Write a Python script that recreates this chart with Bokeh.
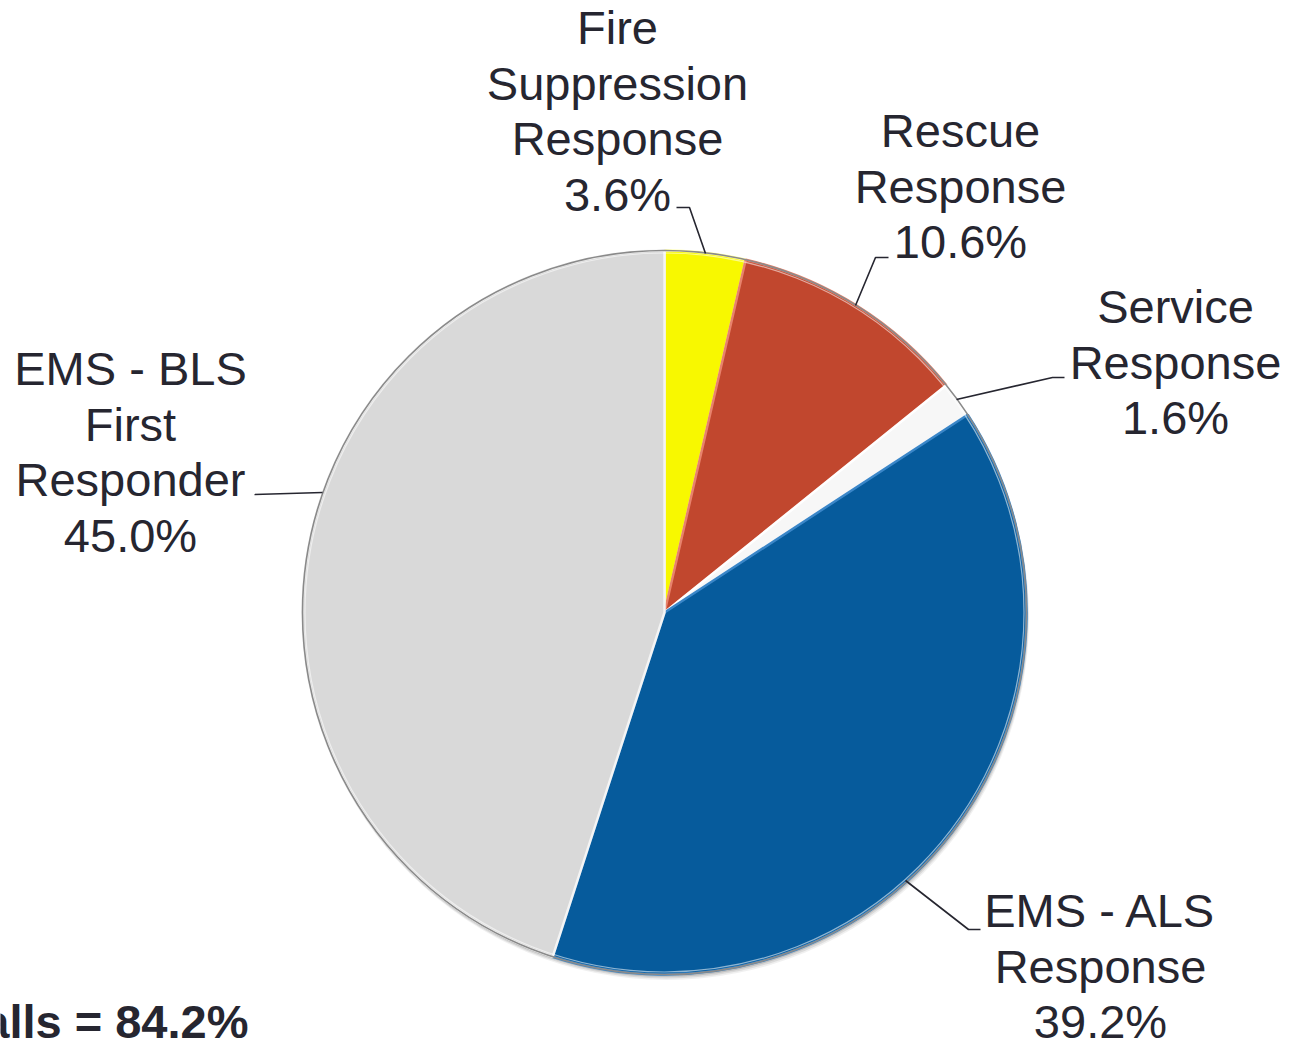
import math
from bokeh.plotting import figure
from bokeh.models import Range1d, ColumnDataSource
from bokeh.core.properties import value
from bokeh.embed import file_html
from bokeh.resources import INLINE

# Call-type shares, clockwise from 12 o'clock
categories = ["Fire\nSuppression\nResponse", "Rescue\nResponse", "Service\nResponse",
              "EMS - ALS\nResponse", "EMS - BLS\nFirst\nResponder"]
shares = [3.6, 10.6, 1.6, 39.2, 45.0]
colors = ["#F8F800", "#C1472E", "#F7F7F7", "#065B9C", "#D9D9D9"]
edge_colors = ["#FFFFA0", "#E8826C", "#FFFFFF", "#3A86C8", "#F4F4F4"]
ems_total_label = "EMS Calls = {:.1f}%".format(shares[3] + shares[4])

W, H = 1289, 1050
CX, CY, R = 664, 612, 362          # pie centre / radius in page pixels
FONT = "Liberation Sans"
TXT = "#262630"
FS = 47
LINE_H = 55.5
TEXT_SHIFT = -17                   # baseline correction for the text glyph

# label block: x centre and baseline of the first line (page pixels)
label_pos = [(617, 44), (960, 147), (1175, 323), (1100, 927), (130, 385)]
# leader polylines (page pixels)
leaders = [
    [(705, 253), (689, 207), (676, 207)],
    [(855, 305), (875, 257), (888, 257)],
    [(956, 399), (1052, 377), (1064, 377)],
    [(905, 880), (968, 929), (980, 929)],
    [(322, 492), (254, 494)],
]


def fy(y):
    return H - y


p = figure(width=W, height=H, x_range=Range1d(0, W), y_range=Range1d(0, H),
           output_backend="svg", toolbar_location=None, min_border=0)
p.axis.visible = False
p.grid.visible = False
p.outline_line_color = None
p.background_fill_color = "white"
p.border_fill_color = "white"

# wedge angles (counter-clockwise radians, starting at the top, going clockwise)
total = sum(shares)
starts, ends = [], []
acc = 0.0
for s in shares:
    a0 = math.pi / 2 - 2 * math.pi * acc / total
    acc += s
    a1 = math.pi / 2 - 2 * math.pi * acc / total
    starts.append(a0)
    ends.append(a1)

# soft drop shadow beneath the pie
for off, alpha in [(5, 0.08), (3.5, 0.12), (2, 0.18)]:
    p.circle(x=[CX + off * 0.4], y=[fy(CY + off)], radius=R + 0.5,
             fill_color="#404040", fill_alpha=alpha, line_color=None)

src = ColumnDataSource(dict(start=starts, end=ends, color=colors, edge=edge_colors))
p.wedge(x=CX, y=fy(CY), radius=R, start_angle="start", end_angle="end",
        direction="clock", fill_color="color", line_color="edge", line_width=2.5,
        source=src)

# outer rim
p.circle(x=[CX], y=[fy(CY)], radius=R, fill_color=None,
         line_color="#8a8a8a", line_width=1.6)
p.circle(x=[CX], y=[fy(CY)], radius=R - 2.5, fill_color=None,
         line_color="white", line_alpha=0.55, line_width=1.2)

# leader lines
for pts in leaders:
    p.line(x=[q[0] for q in pts], y=[fy(q[1]) for q in pts],
           line_color=TXT, line_width=1.6)

# labels: name lines followed by the percentage
tx, ty, tt = [], [], []
for cat, s, (lx, ly) in zip(categories, shares, label_pos):
    lines = cat.split("\n") + ["{:.1f}%".format(s)]
    for i, ln in enumerate(lines):
        tx.append(lx)
        ty.append(fy(ly + i * LINE_H + TEXT_SHIFT))
        tt.append(ln)
p.text(x=tx, y=ty, text=tt, text_align="center", text_baseline="alphabetic",
       text_font=value(FONT), text_font_size=f"{FS}px", text_color=TXT)

p.text(x=[248], y=[fy(1038 + TEXT_SHIFT)], text=[ems_total_label], text_align="right",
       text_baseline="alphabetic", text_font=value(FONT), text_font_style="bold",
       text_font_size=f"{FS}px", text_color=TXT)

open("out.html", "w").write(file_html(p, INLINE))
